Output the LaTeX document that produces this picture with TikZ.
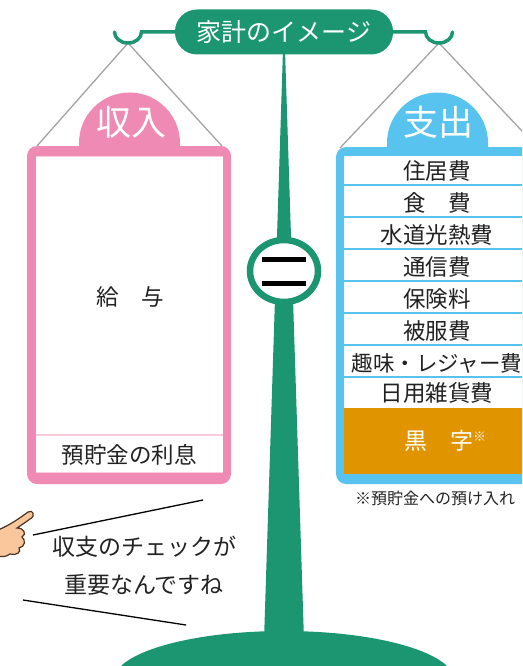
\documentclass[tikz,border=0pt]{standalone}
\usepackage{fontspec}
\setmainfont{Noto Sans CJK JP}
\usetikzlibrary{positioning,calc}
\definecolor{kgreen}{HTML}{1B9670}
\definecolor{kpink}{HTML}{EE8AB4}
\definecolor{kpinklight}{HTML}{F9CADC}
\definecolor{kblue}{HTML}{59C3EF}
\definecolor{korange}{HTML}{E09500}
\definecolor{kstring}{HTML}{A3A3A3}
\definecolor{ktext}{HTML}{222222}
\definecolor{kskin}{HTML}{F9C79B}
\definecolor{kskinline}{HTML}{4A3020}
\tikzset{
  every node/.append style={text=ktext, inner sep=0pt},
  title/.style={fill=kgreen, rounded corners=22pt, minimum width=218pt,
    minimum height=45pt, text=white, font=\fontsize{25}{25}\selectfont},
  tab/.style={font=\fontsize{35}{35}\selectfont, text=white},
  item/.style={font=\fontsize{22.5}{22.5}\selectfont},
  talk/.style={font=\fontsize{23}{23}\selectfont},
  note/.style={font=\fontsize{16}{16}\selectfont, anchor=west},
  cord/.style={kstring, line width=1.3pt},
  beam/.style={kgreen, line width=3.5pt, line cap=round},
  rowline/.style={kblue, line width=1.6pt},
  speech/.style={black, line width=1.3pt},
}

\begin{document}
\begin{tikzpicture}[x=1pt,y=-1pt]
  \useasboundingbox (0,0) rectangle (522,666);
  \clip (0,0) rectangle (522,666);

  % pole and foot
  \fill[kgreen] (283,50) -- (285,50) -- (304,640) -- (264,640) -- cycle;
  \fill[kgreen] (284,680) ellipse [x radius=170, y radius=49];

  % hanging points
  \coordinate (hookL) at (128,43);
  \coordinate (hookR) at (439,43);
  \coordinate (inNW) at (37,146);
  \coordinate (inNE) at (222,146);
  \coordinate (outNW) at (340,148);
  \coordinate (outNE) at (538,148);
  \draw[cord] (inNW) -- (hookL) -- (inNE);
  \draw[cord] (outNW) -- (hookR) -- (outNE);

  % beam with hooks
  \node[title] (head) at (284,32) {家計のイメージ};
  \draw[beam] (114.5,32) arc[start angle=180, end angle=0, x radius=13.5, y radius=11]
    -- (head.west);
  \draw[beam] (head.east) -- (425.5,32)
    arc[start angle=180, end angle=0, x radius=13.5, y radius=11];

  % income pan
  \fill[kpink] (79,147) -- (79,143) arc[start angle=180, end angle=360, radius=50.5] -- (180,147) -- cycle;
  \node[tab] (inTab) at (131,122) {収入};
  \fill[kpink, rounded corners=10pt] (27,146) rectangle (231,484);
  \fill[white] (36,156) rectangle (223,473);
  \draw[kpinklight, line width=1.2pt] (36,156.6) -- (223,156.6);
  \draw[kpinklight, line width=1.2pt] (36,472.4) -- (223,472.4);
  \draw[kpinklight, line width=1.5pt] (36,435) -- (223,435);
  \node[item] (pay) at (130,297) {給　与};
  \node[item] (interest) at (129,455) {預貯金の利息};

  % spending pan
  \fill[kblue] (387,148) -- (387,143) arc[start angle=180, end angle=360, radius=50.5] -- (488,148) -- cycle;
  \node[tab] (outTab) at (438,122) {支出};
  \fill[kblue, rounded corners=10pt] (336,147) rectangle (560,484);
  \fill[white] (344,156) rectangle (560,474);
  \foreach \y in {185,217,249,281,313,345,377} {
    \draw[rowline] (344,\y) -- (560,\y);
  }
  \fill[korange] (344,408) rectangle (560,474);
  \node[item] (rent) at (437,171) {住居費};
  \node[item] (food) at (437,203) {食　費};
  \node[item] (util) at (437,235) {水道光熱費};
  \node[item] (phone) at (437,267) {通信費};
  \node[item] (insure) at (437,299) {保険料};
  \node[item] (cloth) at (437,331) {被服費};
  \node[item, font=\fontsize{21.5}{21.5}\selectfont] (hobby) at (437,363) {趣味・レジャー費};
  \node[item] (daily) at (437,393) {日用雑貨費};
  \node[item, text=white, font=\fontsize{23}{23}\selectfont] (surplus) at (445,441)
    {黒　字\raisebox{8pt}{\fontsize{13}{13}\selectfont ※}};
  \node[note] (foot) at (355,498) {※預貯金への預け入れ};

  % balance sign
  \draw[kgreen, line width=6.5pt, fill=white] (284,271) ellipse [x radius=34, y radius=31];
  \node[minimum width=44pt, minimum height=24pt] (eq) at (284,271.5) {};
  \draw[black, line width=5pt] (eq.north west) -- (eq.north east);
  \draw[black, line width=5pt] (eq.south west) -- (eq.south east);

  % pointing hand
  \filldraw[fill=kskin, draw=kskinline, line width=1.2pt]
    (-2,530) .. controls (10,525) and (20,518) .. (28,512)
    .. controls (33,509) and (36,516) .. (30,519)
    .. controls (26,522) and (20,526) .. (17,528)
    .. controls (24,528) and (27,534) .. (22,537)
    .. controls (26,540) and (25,547) .. (19,548)
    .. controls (22,552) and (16,556) .. (10,554)
    .. controls (6,557) and (2,557) .. (-2,556) -- cycle;

  % speech
  \coordinate (talkA) at (33,535);
  \coordinate (talkB) at (203,500);
  \coordinate (talkC) at (23,600);
  \coordinate (talkD) at (186,625);
  \draw[speech] (talkA) -- (talkB);
  \draw[speech] (talkC) -- (talkD);
  \node[talk] (say1) at (144,547) {収支のチェックが};
  \node[talk] (say2) at (144,585) {重要なんですね};
\end{tikzpicture}
\end{document}
